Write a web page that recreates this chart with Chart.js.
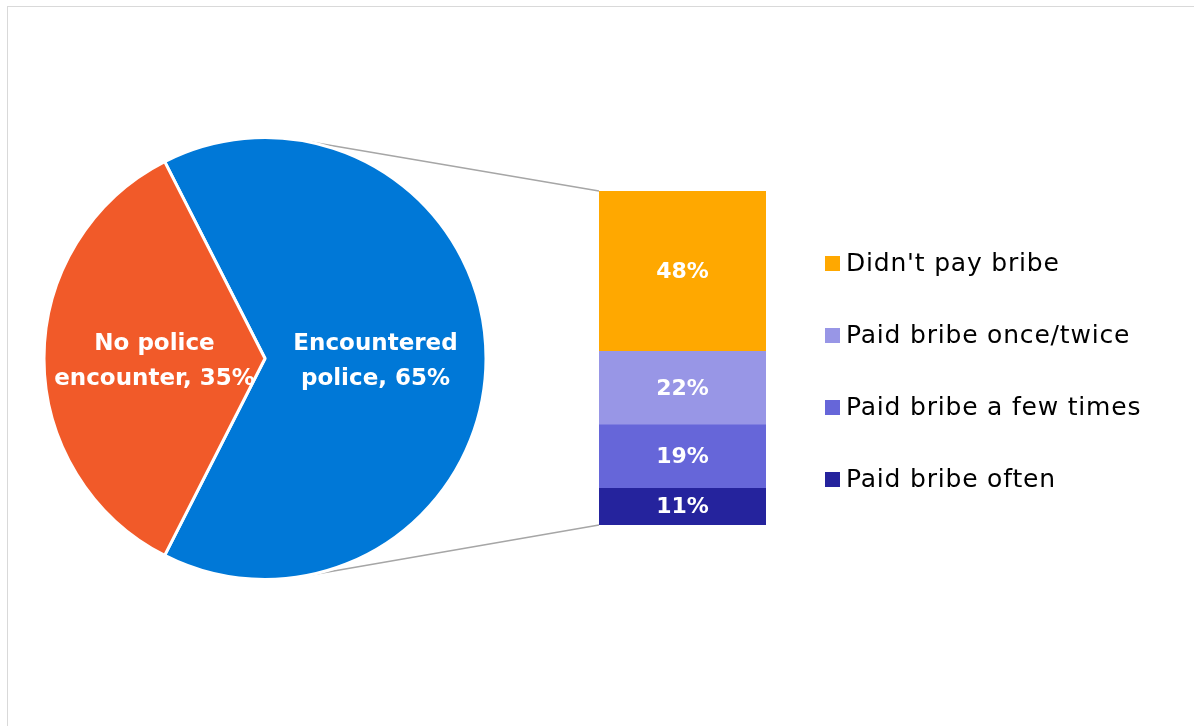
<!DOCTYPE html>
<html><head><meta charset="utf-8">
<script src="https://cdn.jsdelivr.net/npm/chart.js@4.4.0/dist/chart.umd.min.js"></script>
<style>
html,body{margin:0;padding:0;background:#fff;}
#wrap{position:relative;width:1194px;height:726px;overflow:hidden;background:#fff;}
#frame{position:absolute;left:7px;top:6px;width:1220px;height:760px;border:1.5px solid #d9d9d9;box-sizing:border-box;}
canvas{position:absolute;left:0;top:0;}
</style></head><body>
<div id="wrap"><div id="frame"></div>
<canvas id="bar" width="1194" height="726"></canvas>
<canvas id="pie" width="1194" height="726"></canvas>
</div>
<script>
// ---- data ----
const pieLabels = ['Encountered police', 'No police encounter'];
const pieLabelLines = [['Encountered', 'police, 65%'], ['No police', 'encounter, 35%']];
const pieValues = [65, 35];
const pieColors = ['#0078D7', '#F15A29'];

const barCategories = ['Encountered police'];
const barLabels = ["Didn't pay bribe", 'Paid bribe once/twice', 'Paid bribe a few times', 'Paid bribe often'];
const barValues = [48, 22, 19, 11];
const barColors = ['#FFA800', '#9896E6', '#6666D9', '#25239D'];

const FONT = '"DejaVu Sans", "Noto Sans", sans-serif';

// stacked bar: first dataset is at the bottom, so reverse
const barDatasets = barLabels.map((l, i) => ({
  label: l, data: [barValues[i]], backgroundColor: barColors[i],
  borderWidth: 0, barPercentage: 1, categoryPercentage: 1
})).reverse();

const barLabelPlugin = {
  id: 'barLabels',
  afterDatasetsDraw(chart) {
    const ctx = chart.ctx;
    ctx.save();
    ctx.fillStyle = '#fff';
    ctx.font = 'bold 22px ' + FONT;
    ctx.textAlign = 'center';
    ctx.textBaseline = 'middle';
    chart.data.datasets.forEach((ds, di) => {
      const el = chart.getDatasetMeta(di).data[0];
      ctx.fillText(ds.data[0] + '%', el.x, (el.y + el.base) / 2 + 1);
    });
    ctx.restore();
  },
  afterDraw(chart) {
    // legend, in original (top-to-bottom) order
    const ctx = chart.ctx;
    ctx.save();
    ctx.font = '25px ' + FONT;
    try { ctx.letterSpacing = '0.8px'; } catch (e) {}
    ctx.textBaseline = 'middle';
    ctx.textAlign = 'left';
    const x0 = 825, y0 = 263.5, step = 72;
    barLabels.forEach((l, i) => {
      const y = y0 + i * step;
      ctx.fillStyle = barColors[i];
      ctx.fillRect(x0, y - 7.5, 15, 15);
      ctx.fillStyle = '#000';
      ctx.fillText(l, x0 + 21, y + 1);
    });
    ctx.restore();
  }
};

const barChart = new Chart(document.getElementById('bar'), {
  type: 'bar',
  data: { labels: barCategories, datasets: barDatasets },
  options: {
    responsive: false, animation: false,
    layout: { padding: { left: 599, right: 1194 - 766, top: 191, bottom: 726 - 525 } },
    plugins: { legend: { display: false }, tooltip: { enabled: false } },
    scales: {
      x: { display: false, stacked: true },
      y: { display: false, stacked: true, min: 0, max: 100 }
    }
  },
  plugins: [barLabelPlugin]
});

const pieExtras = {
  id: 'pieExtras',
  beforeDatasetsDraw(chart) {
    // connector lines from pie to bar
    const arc = chart.getDatasetMeta(0).data[0];
    const cx = arc.x, cy = arc.y, r = arc.outerRadius;
    const n = barChart.data.datasets.length;
    const topEl = barChart.getDatasetMeta(n - 1).data[0];
    const botEl = barChart.getDatasetMeta(0).data[0];
    const bx = topEl.x - topEl.width / 2;
    const a = 80 * Math.PI / 180;
    const ctx = chart.ctx;
    ctx.save();
    ctx.strokeStyle = '#A6A6A6';
    ctx.lineWidth = 1.5;
    ctx.beginPath();
    ctx.moveTo(cx + r * Math.cos(-a), cy + r * Math.sin(-a));
    ctx.lineTo(bx, topEl.y);
    ctx.moveTo(cx + r * Math.cos(a), cy + r * Math.sin(a));
    ctx.lineTo(bx, botEl.base);
    ctx.stroke();
    ctx.restore();
  },
  afterDatasetsDraw(chart) {
    const ctx = chart.ctx;
    ctx.save();
    ctx.fillStyle = '#fff';
    ctx.font = 'bold 23px ' + FONT;
    ctx.textAlign = 'center';
    ctx.textBaseline = 'middle';
    chart.getDatasetMeta(0).data.forEach((el, i) => {
      const p = el.tooltipPosition();
      const lines = pieLabelLines[i];
      ctx.fillText(lines[0], p.x, p.y - 14);
      ctx.fillText(lines[1], p.x, p.y + 21);
    });
    ctx.restore();
  }
};

const cx = 265, cy = 358.5, R = 222.5;
new Chart(document.getElementById('pie'), {
  type: 'pie',
  data: { labels: pieLabels, datasets: [{ data: pieValues, backgroundColor: pieColors, borderColor: '#fff', borderWidth: 3 }] },
  options: {
    responsive: false, animation: false,
    rotation: -27,
    layout: { padding: { left: cx - R, right: 1194 - (cx + R), top: cy - R, bottom: 726 - (cy + R) } },
    plugins: { legend: { display: false }, tooltip: { enabled: false } }
  },
  plugins: [pieExtras]
});
</script>
</body></html>
